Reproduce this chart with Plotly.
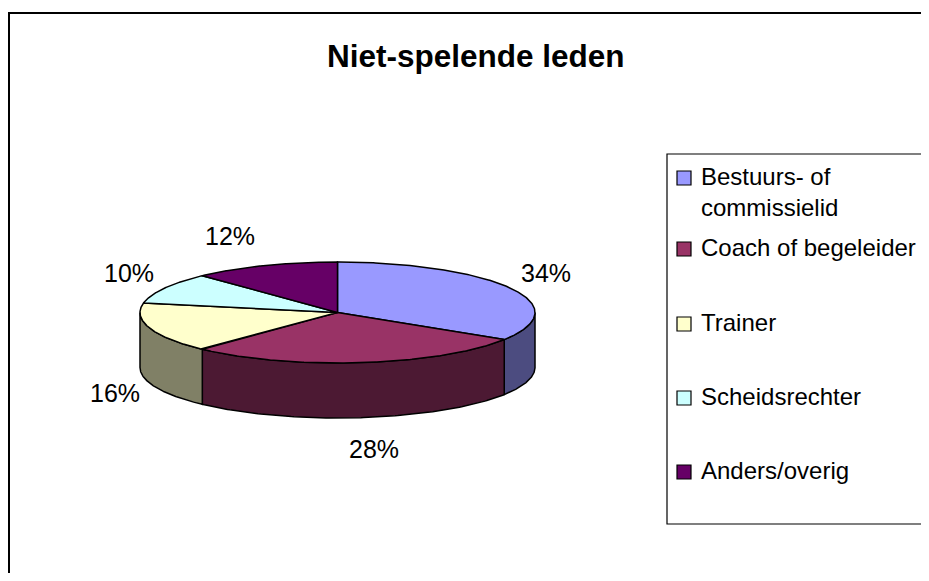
import numpy as np
import plotly.graph_objects as go

# ---------------- data ----------------
categories = ["Bestuurs- of commissielid", "Coach of begeleider", "Trainer",
              "Scheidsrechter", "Anders/overig"]
legend_labels = ["Bestuurs- of<br>commissielid", "Coach of begeleider", "Trainer",
                 "Scheidsrechter", "Anders/overig"]
values = [34, 28, 16, 10, 12]
top_colors = ["#9999FF", "#993366", "#FFFFCC", "#CCFFFF", "#660066"]
side_colors = ["#4C4C80", "#4C1933", "#808066", "#668080", "#330033"]
chart_title = "Niet-spelende leden"

# ---------------- geometry / style ----------------
W, H = 929, 581          # browser window
OFF = 8                  # default page body margin
CX, CY, RX, RY, DEPTH = 337.5, 312.5, 197.5, 50.5, 55
FONT = "Liberation Sans, Arial, sans-serif"
LEGEND_Y = [178, 249, 324, 398, 472]
LEGEND_SQ_X = 684
LEGEND_TX_X = 699

fracs = np.array(values, dtype=float) / sum(values)
bounds = np.concatenate([[0.0], np.cumsum(fracs)]) * 2 * np.pi


def ell(t, dy=0.0):
    return CX + RX * np.sin(t), CY - RY * np.cos(t) + dy


fig = go.Figure()

# visible outer side walls (front half of the disc)
for i in range(len(values)):
    a0, a1 = bounds[i], bounds[i + 1]
    s0, s1 = max(a0, np.pi / 2), min(a1, 3 * np.pi / 2)
    if s1 > s0:
        t = np.linspace(s0, s1, 120)
        xt, yt = ell(t)
        xb, yb = ell(t[::-1], DEPTH)
        x = np.concatenate([xt, xb, xt[:1]])
        y = np.concatenate([yt, yb, yt[:1]])
        fig.add_trace(go.Scatter(x=x, y=y, mode="lines", fill="toself",
                                 fillcolor=side_colors[i],
                                 line=dict(color="black", width=1.5),
                                 hoverinfo="skip", showlegend=False))

# top faces
for i in range(len(values)):
    a0, a1 = bounds[i], bounds[i + 1]
    t = np.linspace(a0, a1, 200)
    xt, yt = ell(t)
    x = np.concatenate([[CX], xt, [CX]])
    y = np.concatenate([[CY], yt, [CY]])
    fig.add_trace(go.Scatter(x=x, y=y, mode="lines", fill="toself",
                             fillcolor=top_colors[i],
                             line=dict(color="black", width=1.5),
                             name=categories[i],
                             hovertemplate=f"{categories[i]}: {values[i]}%<extra></extra>",
                             showlegend=False))

annotations = []
# percentage labels
for i, v in enumerate(values):
    mid = (bounds[i] + bounds[i + 1]) / 2
    s, c = np.sin(mid), np.cos(mid)
    lx = CX + RX * s + 35 * np.clip(s * 2.7, -1, 1)
    ly = CY - (RY + 32) * c + (DEPTH if c < 0 else 0)
    annotations.append(dict(x=lx, y=ly, xref="x", yref="y", text=f"{v}%",
                            showarrow=False, xanchor="center", yanchor="middle",
                            font=dict(family=FONT, size=25, color="black")))

# legend
fig.add_trace(go.Scatter(x=[LEGEND_SQ_X] * len(values), y=LEGEND_Y, mode="markers",
                         marker=dict(symbol="square", size=14, color=top_colors,
                                     line=dict(color="black", width=1.2)),
                         hoverinfo="skip", showlegend=False))
for i, lab in enumerate(legend_labels):
    annotations.append(dict(x=LEGEND_TX_X, y=LEGEND_Y[i] - 17, xref="x", yref="y",
                            text=lab, showarrow=False, xanchor="left", yanchor="top",
                            align="left",
                            font=dict(family=FONT, size=24, color="black")))

# title
annotations.append(dict(x=476, y=56, xref="x", yref="y", text=f"<b>{chart_title}</b>",
                        showarrow=False, xanchor="center", yanchor="middle",
                        font=dict(family=FONT, size=31.5, color="black")))

shapes = [
    dict(type="rect", xref="x", yref="y", x0=OFF + 1, y0=13, x1=W + 20, y1=H + 20,
         line=dict(color="black", width=2), fillcolor="rgba(0,0,0,0)", layer="below"),
    dict(type="rect", xref="x", yref="y", x0=667, y0=154, x1=W + 20, y1=524,
         line=dict(color="black", width=1.2), fillcolor="rgba(0,0,0,0)", layer="below"),
]

fig.update_layout(
    width=W - OFF, height=H - 2 * OFF, margin=dict(l=0, r=0, t=0, b=0),
    paper_bgcolor="white", plot_bgcolor="white", showlegend=False,
    xaxis=dict(range=[OFF, W], visible=False, fixedrange=True),
    yaxis=dict(range=[H - OFF, OFF], visible=False, fixedrange=True),
    annotations=annotations, shapes=shapes,
)

fig.write_html("out.html")
